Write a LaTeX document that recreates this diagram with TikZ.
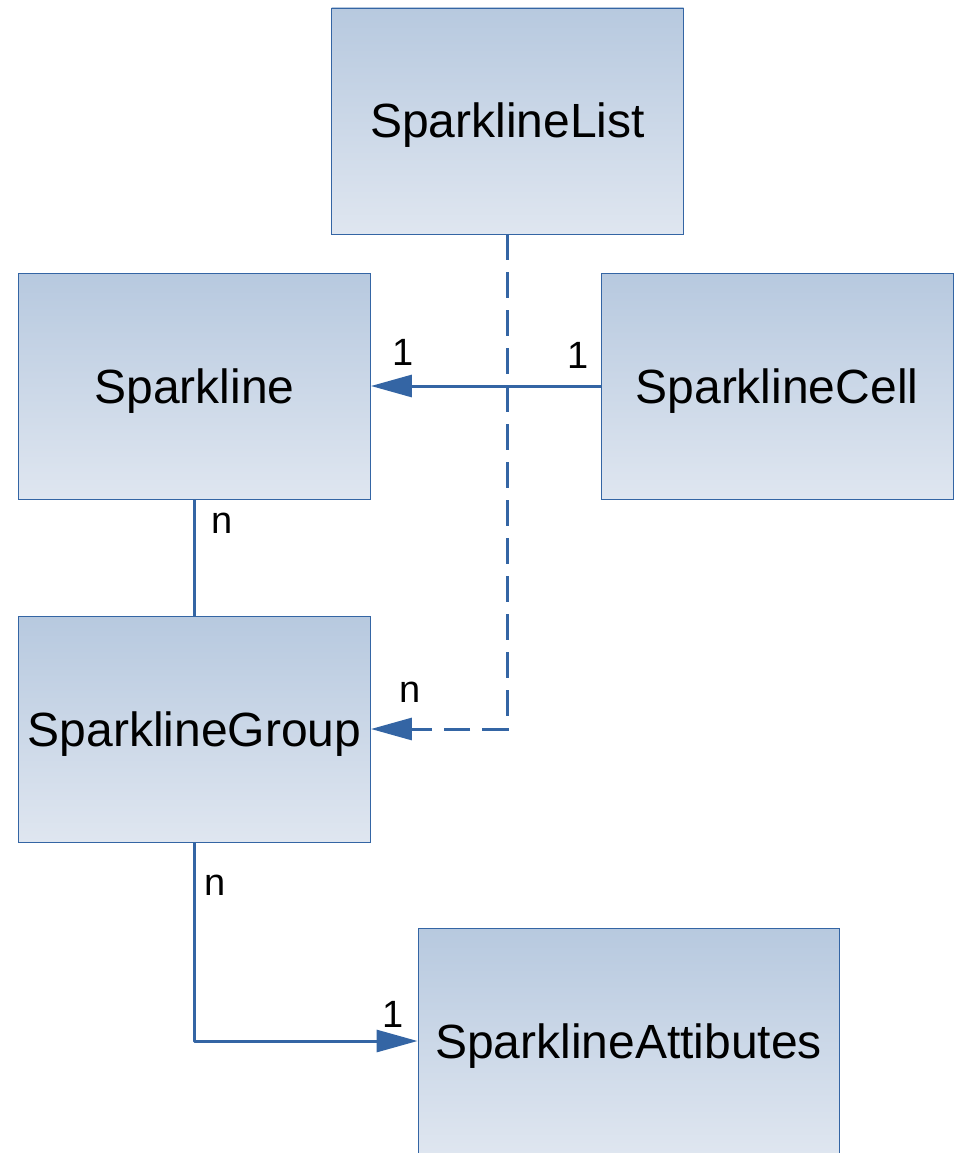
\documentclass[tikz,border=0pt]{standalone}
\usepackage{fontspec}
\setmainfont{Liberation Sans}
\usetikzlibrary{arrows.meta}
\definecolor{boxtop}{HTML}{B7C9DF}
\definecolor{boxbot}{HTML}{DFE6F0}
\definecolor{lineblue}{HTML}{3465A4}
\tikzset{
  entity/.style={rectangle, draw=lineblue, line width=0.9pt, top color=boxtop, bottom color=boxbot,
    minimum width=352pt, minimum height=226pt, inner sep=0pt, text height=44pt, text depth=10pt,
    font=\fontsize{48}{56}\selectfont},
  link/.style={draw=lineblue, line width=3pt},
  conn/.style={link, -{Triangle[length=41pt,width=22pt]}},
  card/.style={font=\fontsize{38}{46}\selectfont, inner sep=0pt}
}
\begin{document}
\begin{tikzpicture}[x=1pt,y=-1pt]
\useasboundingbox (0,0) rectangle (958,1153);
\node[entity] (list) at (507.5,121) {SparklineList};
\node[entity] (spark) at (194.5,386) {Sparkline};
\node[entity] (cell) at (777,386) {SparklineCell};
\node[entity] (group) at (194.5,729) {SparklineGroup};
\node[entity, minimum width=421pt] (attr) at (628.5,1041) {SparklineAttibutes};
\draw[conn] (cell.west) -- (spark.east);
\draw[conn, dash pattern=on 26pt off 12pt] (list.south) |- (group.east);
\draw[link] (spark.south) -- (group.north);
\draw[conn, line join=round] (group.south) |- (attr.west);
\node[card] (l1) at (403,352) {1};
\node[card] (l2) at (578,355) {1};
\node[card] (l3) at (222,523) {n};
\node[card] (l4) at (410,692) {n};
\node[card] (l5) at (215,885) {n};
\node[card] (l6) at (393,1014) {1};
\end{tikzpicture}
\end{document}
